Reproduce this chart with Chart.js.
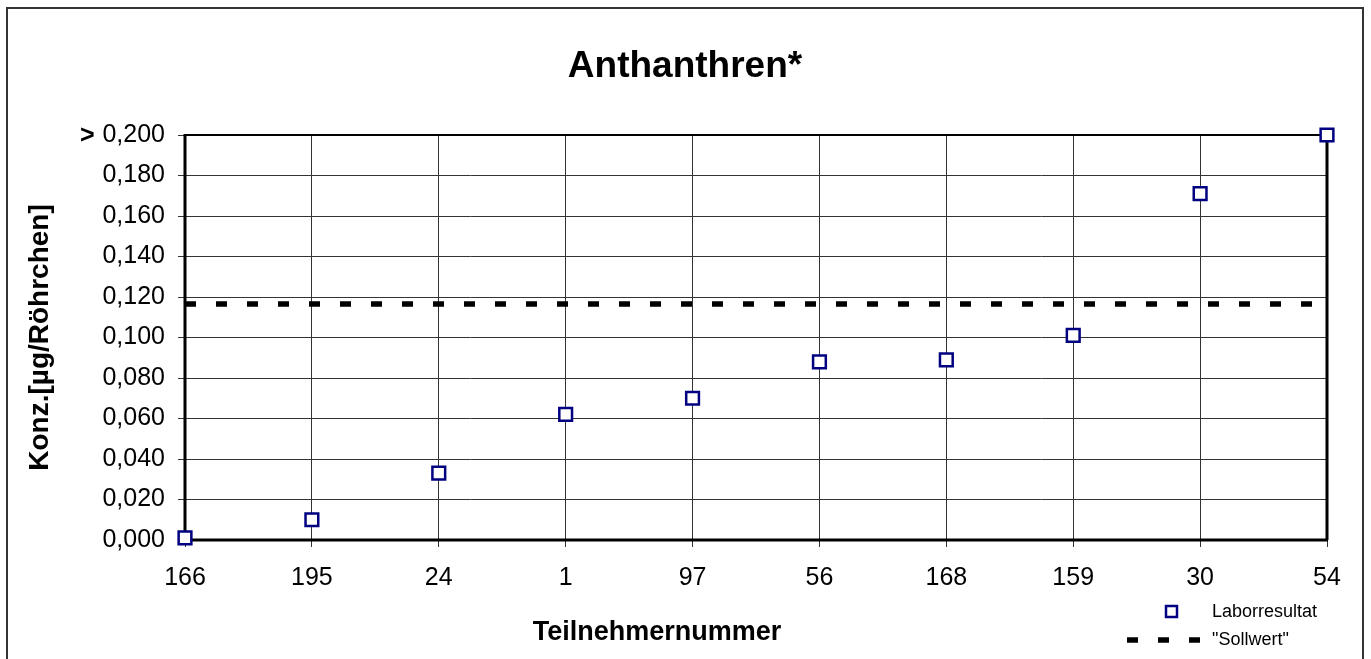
<!DOCTYPE html>
<html>
<head>
<meta charset="utf-8">
<script src="https://cdn.jsdelivr.net/npm/chart.js@4"></script>
<style>
  html, body { margin: 0; padding: 0; background: #fff; }
  #wrap { width: 1371px; height: 659px; position: relative; }
</style>
</head>
<body>
<div id="wrap"><canvas id="chart"></canvas></div>
<script>
// Teilnehmer (Reihenfolge wie im Bild)
const teilnehmer = ['166', '195', '24', '1', '97', '56', '168', '159', '30', '54'];
// Laborresultate in µg/Röhrchen
const laborresultat = [0.001, 0.010, 0.033, 0.062, 0.070, 0.088, 0.089, 0.101, 0.171, 0.200];
// Sollwert
const sollwert = [0.1165, 0.1165, 0.1165, 0.1165, 0.1165, 0.1165, 0.1165, 0.1165, 0.1165, 0.1165];

const fontName = '"Liberation Sans", Arial, sans-serif';

// Rahmen, Achsenlinien, Titel, ">" , x-Titel und Legende
const decoPlugin = {
  id: 'deco',
  beforeDatasetsDraw(chart) {
    const { ctx, chartArea: a } = chart;
    ctx.save();
    ctx.strokeStyle = '#000';
    ctx.lineWidth = 2;
    ctx.strokeRect(a.left, a.top, a.right - a.left, a.bottom - a.top);
    ctx.lineWidth = 3;
    ctx.beginPath();
    ctx.moveTo(a.left, a.top - 1);
    ctx.lineTo(a.left, a.bottom);
    ctx.lineTo(a.right + 1, a.bottom);
    ctx.moveTo(a.right, a.top);
    ctx.lineTo(a.right, a.bottom);
    ctx.stroke();
    ctx.restore();
  },
  afterDraw(chart) {
    const { ctx, scales } = chart;
    ctx.save();
    ctx.setTransform(1, 0, 0, 1, 0, 0);
    // äusserer Rahmen
    ctx.strokeStyle = '#333';
    ctx.lineWidth = 2;
    ctx.strokeRect(7, 8, 1356, 660);

    // Titel
    ctx.fillStyle = '#000';
    ctx.textAlign = 'center';
    ctx.textBaseline = 'middle';
    ctx.font = 'bold 37px ' + fontName;
    ctx.fillText('Anthanthren*', 685, 67);

    // ">" vor dem obersten Wert
    ctx.font = 'bold 25px ' + fontName;
    ctx.textAlign = 'left';
    ctx.fillText('>', 80, scales.y.getPixelForValue(0.2) + 1);

    // Achsentitel x
    ctx.font = 'bold 27px ' + fontName;
    ctx.textAlign = 'center';
    ctx.fillText('Teilnehmernummer', 657, 633);

    // Legende
    ctx.font = '18px ' + fontName;
    ctx.textAlign = 'left';
    ctx.fillText('Laborresultat', 1212, 612);
    ctx.fillText('"Sollwert"', 1212, 640);
    ctx.strokeStyle = '#000080';
    ctx.lineWidth = 2.5;
    ctx.fillStyle = '#fff';
    ctx.fillRect(1166, 606, 11, 11);
    ctx.strokeRect(1166, 606, 11, 11);
    ctx.strokeStyle = '#000';
    ctx.lineWidth = 5.5;
    ctx.setLineDash([11, 20]);
    ctx.beginPath();
    ctx.moveTo(1127, 640);
    ctx.lineTo(1200, 640);
    ctx.stroke();
    ctx.restore();
  }
};

new Chart(document.getElementById('chart'), {
  type: 'line',
  data: {
    labels: teilnehmer,
    datasets: [
      {
        label: 'Laborresultat',
        data: laborresultat,
        showLine: false,
        pointStyle: 'rect',
        pointRadius: 9,
        pointHoverRadius: 9,
        pointBorderWidth: 2.5,
        borderColor: '#000080',
        pointBackgroundColor: '#fff',
        backgroundColor: '#fff',
        clip: false,
        order: 0
      },
      {
        label: '"Sollwert"',
        data: sollwert,
        borderColor: '#000',
        borderWidth: 5.5,
        borderDash: [11, 20],
        pointRadius: 0,
        fill: false,
        clip: false,
        order: 1
      }
    ]
  },
  options: {
    responsive: true,
    maintainAspectRatio: false,
    animation: false,
    layout: { padding: { left: 0, right: 44, top: 135, bottom: 0 } },
    plugins: {
      legend: { display: false },
      tooltip: { enabled: false },
      title: { display: false }
    },
    scales: {
      x: {
        type: 'category',
        offset: false,
        grid: {
          color: '#333',
          lineWidth: 1,
          tickLength: 7,
          drawTicks: true
        },
        border: { display: false },
        ticks: {
          color: '#000',
          font: { family: fontName, size: 25 },
          padding: 16,
          maxRotation: 0,
          autoSkip: false
        },
        afterFit(scale) { scale.height = 119; }
      },
      y: {
        min: 0,
        max: 0.2,
        grid: {
          color: '#333',
          lineWidth: 1,
          tickLength: 7
        },
        border: { display: false },
        ticks: {
          stepSize: 0.02,
          color: '#000',
          font: { family: fontName, size: 25 },
          padding: 13,
          callback: v => v.toFixed(3).replace('.', ',')
        },
        title: {
          display: true,
          text: 'Konz.[µg/Röhrchen]',
          color: '#000',
          font: { family: fontName, size: 28, weight: 'bold', lineHeight: 1.2 },
          padding: { top: 23, bottom: 0 }
        },
        afterFit(scale) { scale.width = 185; }
      }
    }
  },
  plugins: [decoPlugin]
});
</script>
</body>
</html>
